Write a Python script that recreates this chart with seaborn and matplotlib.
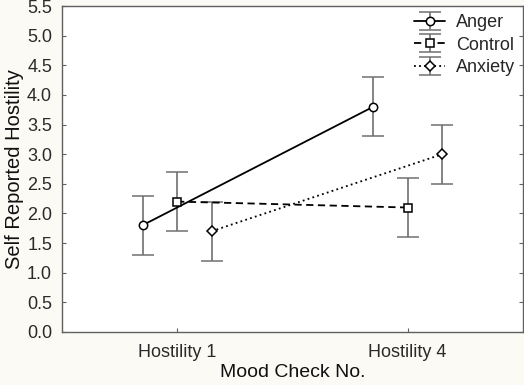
import numpy as np
import pandas as pd
import seaborn as sns
import matplotlib.pyplot as plt

sns.set_theme(style="ticks")
plt.rcParams['font.family'] = ['Liberation Sans', 'DejaVu Sans']

checks = ["Hostility 1", "Hostility 4"]
groups = ["Anger", "Control", "Anxiety"]
anger = [1.8, 3.8]
control = [2.2, 2.1]
anxiety = [1.7, 3.0]
anger_err = [0.5, 0.5]
control_err = [0.5, 0.5]
anxiety_err = [0.5, 0.5]

df = pd.DataFrame({
    "check": checks * 3,
    "group": np.repeat(groups, 2),
    "score": anger + control + anxiety,
    "err": anger_err + control_err + anxiety_err,
})

styles = {
    "Anger": dict(marker="o", ls="-", ms=6),
    "Control": dict(marker="s", ls=(0, (4, 2.5)), ms=6),
    "Anxiety": dict(marker="D", ls=(0, (1, 1.8)), ms=5),
}
offsets = {"Anger": -0.15, "Control": 0.0, "Anxiety": 0.15}

fig = plt.figure(figsize=(5.24, 3.85), dpi=100, facecolor="#fcfaf5")
ax = fig.add_axes([0.118, 0.138, 0.880, 0.846])
ax.set_facecolor("white")

for g in groups:
    sub = df[df["group"] == g]
    x = np.arange(len(sub)) + offsets[g]
    st = styles[g]
    ax.errorbar(x, sub["score"], yerr=sub["err"], color="black", ecolor="#707070",
                elinewidth=1.2, capsize=8, capthick=1.2, lw=1.3, ls=st["ls"],
                marker=st["marker"], ms=st["ms"], mfc="white", mec="black", mew=1.1,
                label=g)

ax.set_xlim(-0.5, 1.5)
ax.set_ylim(0, 5.5)
ax.set_xticks(range(len(checks)))
ax.set_xticklabels(checks)
ax.set_yticks(np.arange(0, 5.51, 0.5))
ax.set_yticklabels([f"{v:.1f}" for v in np.arange(0, 5.51, 0.5)])
ax.tick_params(axis="both", direction="in", length=3, width=0.8, color="#606060",
               labelsize=13, labelcolor="#2a2a2a")
ax.tick_params(axis="x", pad=9)
ax.tick_params(axis="y", right=True, pad=7)
for s in ax.spines.values():
    s.set_color("#606060")
    s.set_linewidth(1.0)

ax.set_xlabel("Mood Check No.", fontsize=14, color="#111111", labelpad=2)
ax.set_ylabel("Self Reported Hostility", fontsize=14.5, color="#111111", labelpad=2)

leg = ax.legend(loc="upper right", frameon=False, fontsize=13, handlelength=1.7,
                handletextpad=0.6, labelspacing=0.3, borderaxespad=0.05)

fig.savefig("out.png", dpi=100, facecolor=fig.get_facecolor())
